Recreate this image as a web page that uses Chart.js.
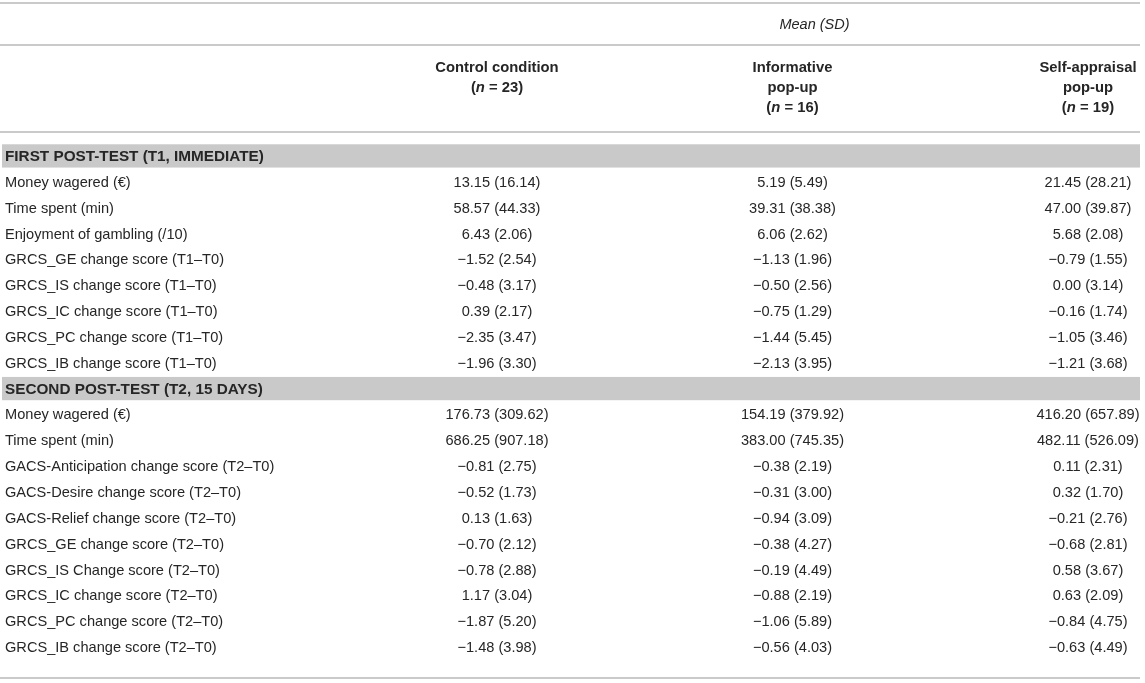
<!DOCTYPE html>
<html><head><meta charset="utf-8">
<script src="https://cdn.jsdelivr.net/npm/chart.js@4.4.1/dist/chart.umd.min.js"></script>
<style>html,body{margin:0;padding:0;background:#fff}#wrap{width:1145px;height:683px}</style>
</head><body><div id="wrap"><canvas id="c" width="1145" height="683"></canvas></div>
<script>
const spanTitle = "Mean (SD)";
const columnTitles = [["Control condition"], ["Informative", "pop-up"], ["Self-appraisal", "pop-up"]];
const groupSizes = [23, 16, 19];
const sections = ["FIRST POST-TEST (T1, IMMEDIATE)", "SECOND POST-TEST (T2, 15 DAYS)"];

const t1Rows = ["Money wagered (€)", "Time spent (min)", "Enjoyment of gambling (/10)",
  "GRCS_GE change score (T1–T0)", "GRCS_IS change score (T1–T0)", "GRCS_IC change score (T1–T0)",
  "GRCS_PC change score (T1–T0)", "GRCS_IB change score (T1–T0)"];
const t1ControlMean = [13.15, 58.57, 6.43, -1.52, -0.48, 0.39, -2.35, -1.96];
const t1ControlSD   = [16.14, 44.33, 2.06, 2.54, 3.17, 2.17, 3.47, 3.30];
const t1InfoMean    = [5.19, 39.31, 6.06, -1.13, -0.50, -0.75, -1.44, -2.13];
const t1InfoSD      = [5.49, 38.38, 2.62, 1.96, 2.56, 1.29, 5.45, 3.95];
const t1SelfMean    = [21.45, 47.00, 5.68, -0.79, 0.00, -0.16, -1.05, -1.21];
const t1SelfSD      = [28.21, 39.87, 2.08, 1.55, 3.14, 1.74, 3.46, 3.68];

const t2Rows = ["Money wagered (€)", "Time spent (min)", "GACS-Anticipation change score (T2–T0)",
  "GACS-Desire change score (T2–T0)", "GACS-Relief change score (T2–T0)", "GRCS_GE change score (T2–T0)",
  "GRCS_IS Change score (T2–T0)", "GRCS_IC change score (T2–T0)", "GRCS_PC change score (T2–T0)",
  "GRCS_IB change score (T2–T0)"];
const t2ControlMean = [176.73, 686.25, -0.81, -0.52, 0.13, -0.70, -0.78, 1.17, -1.87, -1.48];
const t2ControlSD   = [309.62, 907.18, 2.75, 1.73, 1.63, 2.12, 2.88, 3.04, 5.20, 3.98];
const t2InfoMean    = [154.19, 383.00, -0.38, -0.31, -0.94, -0.38, -0.19, -0.88, -1.06, -0.56];
const t2InfoSD      = [379.92, 745.35, 2.19, 3.00, 3.09, 4.27, 4.49, 2.19, 5.89, 4.03];
const t2SelfMean    = [416.20, 482.11, 0.11, 0.32, -0.21, -0.68, 0.58, 0.63, -0.84, -0.63];
const t2SelfSD      = [657.89, 526.09, 2.31, 1.70, 2.76, 2.81, 3.67, 2.09, 4.75, 4.49];

// ---- build rows (section header rows + data rows) ----
const rowLabels = [sections[0], ...t1Rows, sections[1], ...t2Rows];
const sectionRows = [0, t1Rows.length + 1];
const groupMeans = [t1ControlMean.concat(t2ControlMean), t1InfoMean.concat(t2InfoMean), t1SelfMean.concat(t2SelfMean)];
const groupSDs = [t1ControlSD.concat(t2ControlSD), t1InfoSD.concat(t2InfoSD), t1SelfSD.concat(t2SelfSD)];
const dataRowIndex = [...t1Rows.map((_, i) => i + 1), ...t2Rows.map((_, i) => i + t1Rows.length + 2)];

function fmt(v) { return (v < 0 ? '\u2212' : '') + Math.abs(v).toFixed(2); }

const FONT = '"Liberation Sans", Arial, Helvetica, sans-serif';
const TXT = '#262626';
const LINE = '#b8b8b8';
const BAND = '#c9c9c9';
const RULE_RIGHT = 1140;

const datasets = groupMeans.map((means, g) => ({
  label: columnTitles[g].join(' '),
  data: means.map((m, i) => ({ x: g, y: dataRowIndex[i], text: fmt(m) + ' (' + groupSDs[g][i].toFixed(2) + ')' })),
  pointRadius: 0, showLine: false
}));

const tablePlugin = {
  id: 'table',
  beforeDatasetsDraw(chart) {
    const ctx = chart.ctx, ys = chart.scales.y, xs = chart.scales.x;
    ctx.save();
    // horizontal rules
    ctx.strokeStyle = LINE; ctx.lineWidth = 1.6;
    [3, 45, 132, 678].forEach(y => { ctx.beginPath(); ctx.moveTo(0, y); ctx.lineTo(RULE_RIGHT, y); ctx.stroke(); });
    // section bands
    const rowH = Math.abs(ys.getPixelForValue(1) - ys.getPixelForValue(0));
    sectionRows.forEach(r => {
      const y = ys.getPixelForValue(r);
      ctx.fillStyle = BAND;
      ctx.fillRect(2, y - rowH * 0.45, RULE_RIGHT - 2, rowH * 0.9);
    });
    // row labels
    ctx.textBaseline = 'middle'; ctx.textAlign = 'left'; ctx.fillStyle = TXT;
    rowLabels.forEach((lab, r) => {
      const isSec = sectionRows.includes(r);
      ctx.font = (isSec ? 'bold 15.3px ' : '14.6px ') + FONT;
      ctx.fillText(lab, 5, ys.getPixelForValue(r) + 1);
    });
    // header
    ctx.textAlign = 'center';
    ctx.font = 'italic 14.5px ' + FONT;
    ctx.fillText(spanTitle, xs.getPixelForValue(1) + 22, 25);
    const HF = 'bold 14.8px ';
    columnTitles.forEach((lines, g) => {
      ctx.font = HF + FONT;
      const maxW = Math.max(...lines.map(t => ctx.measureText(t).width));
      const cx = Math.min(xs.getPixelForValue(g), RULE_RIGHT - 2 - maxW / 2);
      const lineYs = [68, 88, 108];
      ctx.textAlign = 'center';
      lines.forEach((t, j) => ctx.fillText(t, cx, lineYs[j]));
      // (n = N) with italic n
      const y = lineYs[lines.length];
      const parts = [['(', HF], ['n', 'italic ' + HF], [' = ' + groupSizes[g] + ')', HF]];
      let tot = 0;
      parts.forEach(p => { ctx.font = p[1] + FONT; tot += ctx.measureText(p[0]).width; });
      let x = cx - tot / 2;
      ctx.textAlign = 'left';
      parts.forEach(p => { ctx.font = p[1] + FONT; ctx.fillText(p[0], x, y); x += ctx.measureText(p[0]).width; });
    });
    ctx.restore();
  },
  afterDatasetsDraw(chart) {
    const ctx = chart.ctx;
    ctx.save();
    ctx.textBaseline = 'middle'; ctx.textAlign = 'center'; ctx.fillStyle = TXT;
    ctx.font = '14.6px ' + FONT;
    chart.data.datasets.forEach((ds, di) => {
      chart.getDatasetMeta(di).data.forEach((el, i) => {
        ctx.fillText(ds.data[i].text, el.x, el.y + 1);
      });
    });
    ctx.restore();
  }
};

new Chart(document.getElementById('c'), {
  type: 'scatter',
  data: { datasets },
  options: {
    responsive: false, animation: false, devicePixelRatio: 1,
    layout: { padding: { top: 143, bottom: 23, left: 0, right: 0 } },
    scales: {
      x: { type: 'linear', min: -1.6819, max: 2.1930, display: false },
      y: { type: 'linear', min: -0.5, max: rowLabels.length - 0.5, reverse: true, display: false }
    },
    plugins: { legend: { display: false }, tooltip: { enabled: false } }
  },
  plugins: [tablePlugin]
});
</script>
</body></html>
